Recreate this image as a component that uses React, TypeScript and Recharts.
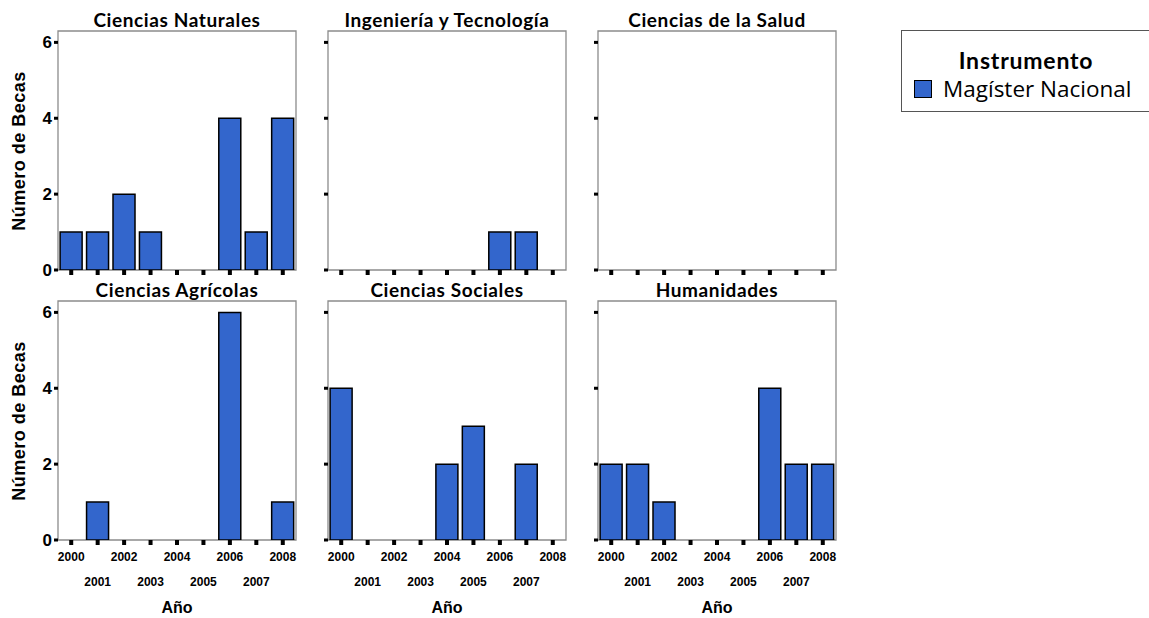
import React from 'react';
import { BarChart, Bar, XAxis, YAxis, ReferenceArea } from 'recharts';

const YEARS = ['2000', '2001', '2002', '2003', '2004', '2005', '2006', '2007', '2008'];
const NATURALES = [1, 1, 2, 1, 0, 0, 4, 1, 4];
const INGENIERIA = [0, 0, 0, 0, 0, 0, 1, 1, 0];
const SALUD = [0, 0, 0, 0, 0, 0, 0, 0, 0];
const AGRICOLAS = [0, 1, 0, 0, 0, 0, 6, 0, 1];
const SOCIALES = [4, 0, 0, 0, 2, 3, 0, 2, 0];
const HUMANIDADES = [2, 2, 1, 0, 0, 0, 4, 2, 2];
const TITLES = ['Ciencias Naturales', 'Ingeniería y Tecnología', 'Ciencias de la Salud', 'Ciencias Agrícolas', 'Ciencias Sociales', 'Humanidades'];
const SERIES = [NATURALES, INGENIERIA, SALUD, AGRICOLAS, SOCIALES, HUMANIDADES];
const Y_TICKS = [0, 2, 4, 6];
const Y_MAX = 6.3;
const Y_LABEL = 'Número de Becas';
const X_LABEL = 'Año';
const LEGEND_TITLE = 'Instrumento';
const LEGEND_ITEM = 'Magíster Nacional';

const COL_LEFT = [58, 328, 598];
const ROW_TOP = [31, 301];
const PW = 238;
const PH = 239;
const YW = 50;
const MT = 2;
const MR = 2;
const BAR_COLOR = '#3366CC';
const FRAME = '#8c8c8c';
const ARIAL = '"Liberation Sans", Arial, sans-serif';
const CAL = 'Lato, "Open Sans", sans-serif';

const EmptyTick = () => <g />;

const YearTick = (props: any) => {
  const { x, y, payload, index } = props;
  const dy = index % 2 === 0 ? 14 : 39;
  return (
    <text x={x} y={y + dy} textAnchor="middle" fontFamily={ARIAL} fontWeight="bold" fontSize={12} fill="#000">
      {payload.value}
    </text>
  );
};

function Panel({ idx }: { idx: number }) {
  const row = Math.floor(idx / 3);
  const col = idx % 3;
  const values = SERIES[idx];
  const data = YEARS.map((y, i) => ({ year: y, v: values[i] }));
  const bottom = row === 1;
  const xh = bottom ? 60 : 10;
  const width = YW + PW + MR;
  const height = MT + PH + xh;
  return (
    <div style={{ position: 'absolute', left: COL_LEFT[col] - YW, top: ROW_TOP[row] - MT }}>
      <BarChart width={width} height={height} data={data} margin={{ top: MT, right: MR, left: 0, bottom: 0 }} barCategoryGap="8%">
        <XAxis
          dataKey="year"
          height={xh}
          axisLine={false}
          tickLine={{ stroke: '#000', strokeWidth: 4 }}
          tickSize={5}
          tick={bottom ? <YearTick /> : <EmptyTick />}
          interval={0}
        />
        <YAxis
          width={YW}
          domain={[0, Y_MAX]}
          ticks={Y_TICKS}
          allowDataOverflow
          axisLine={false}
          tickLine={{ stroke: '#000', strokeWidth: 3 }}
          tickSize={4}
          tickMargin={2}
          tick={col === 0 ? { fill: '#000', fontSize: 17, fontWeight: 'bold', fontFamily: ARIAL } : <EmptyTick />}
        />
        <ReferenceArea y1={0} y2={Y_MAX} ifOverflow="visible" fill="none" stroke={FRAME} strokeWidth={1.3} />
        <Bar dataKey="v" fill={BAR_COLOR} stroke="#000" strokeWidth={1.5} isAnimationActive={false} />
      </BarChart>
    </div>
  );
}

export default function App() {
  return (
    <div style={{ position: 'absolute', left: 0, top: 0, width: 1149, height: 618, background: '#fff', overflow: 'hidden' }}>
      {TITLES.map((t, i) => {
        const row = Math.floor(i / 3);
        const col = i % 3;
        return (
          <div
            key={t}
            style={{
              position: 'absolute',
              left: COL_LEFT[col] + PW / 2,
              top: ROW_TOP[row] - 12,
              transform: 'translate(-50%, -50%)',
              whiteSpace: 'nowrap',
              fontFamily: CAL,
              fontWeight: 'bold',
              fontSize: 19,
              letterSpacing: 0.6,
              color: '#000',
            }}
          >
            {t}
          </div>
        );
      })}
      {[0, 1, 2, 3, 4, 5].map((i) => (
        <Panel key={i} idx={i} />
      ))}
      {ROW_TOP.map((t, r) => (
        <div
          key={'yl' + r}
          style={{
            position: 'absolute',
            left: 18.5,
            top: t + PH / 2,
            transform: 'translate(-50%, -50%) rotate(-90deg)',
            whiteSpace: 'nowrap',
            fontFamily: ARIAL,
            fontWeight: 'bold',
            fontSize: 18,
            letterSpacing: 0.5,
            color: '#000',
          }}
        >
          {Y_LABEL}
        </div>
      ))}
      {COL_LEFT.map((l, c) => (
        <div
          key={'xl' + c}
          style={{
            position: 'absolute',
            left: l + PW / 2,
            top: 608,
            transform: 'translate(-50%, -50%)',
            whiteSpace: 'nowrap',
            fontFamily: ARIAL,
            fontWeight: 'bold',
            fontSize: 16,
            color: '#000',
          }}
        >
          {X_LABEL}
        </div>
      ))}
      <div
        style={{
          position: 'absolute',
          left: 901,
          top: 30,
          width: 250,
          height: 82,
          border: '1px solid #555',
          boxSizing: 'border-box',
        }}
      >
        <div
          style={{
            position: 'absolute',
            left: 124,
            top: 29,
            transform: 'translate(-50%, -50%)',
            whiteSpace: 'nowrap',
            fontFamily: CAL,
            fontWeight: 'bold',
            fontSize: 23,
            letterSpacing: 0.8,
            color: '#000',
          }}
        >
          {LEGEND_TITLE}
        </div>
        <div
          style={{
            position: 'absolute',
            left: 12,
            top: 49,
            width: 18,
            height: 18,
            background: BAR_COLOR,
            border: '1.5px solid #000',
            boxSizing: 'border-box',
          }}
        />
        <div
          style={{
            position: 'absolute',
            left: 41,
            top: 57,
            transform: 'translateY(-50%)',
            whiteSpace: 'nowrap',
            fontFamily: '"Open Sans", sans-serif',
            fontSize: 22.5,
            color: '#000',
          }}
        >
          {LEGEND_ITEM}
        </div>
      </div>
    </div>
  );
}
